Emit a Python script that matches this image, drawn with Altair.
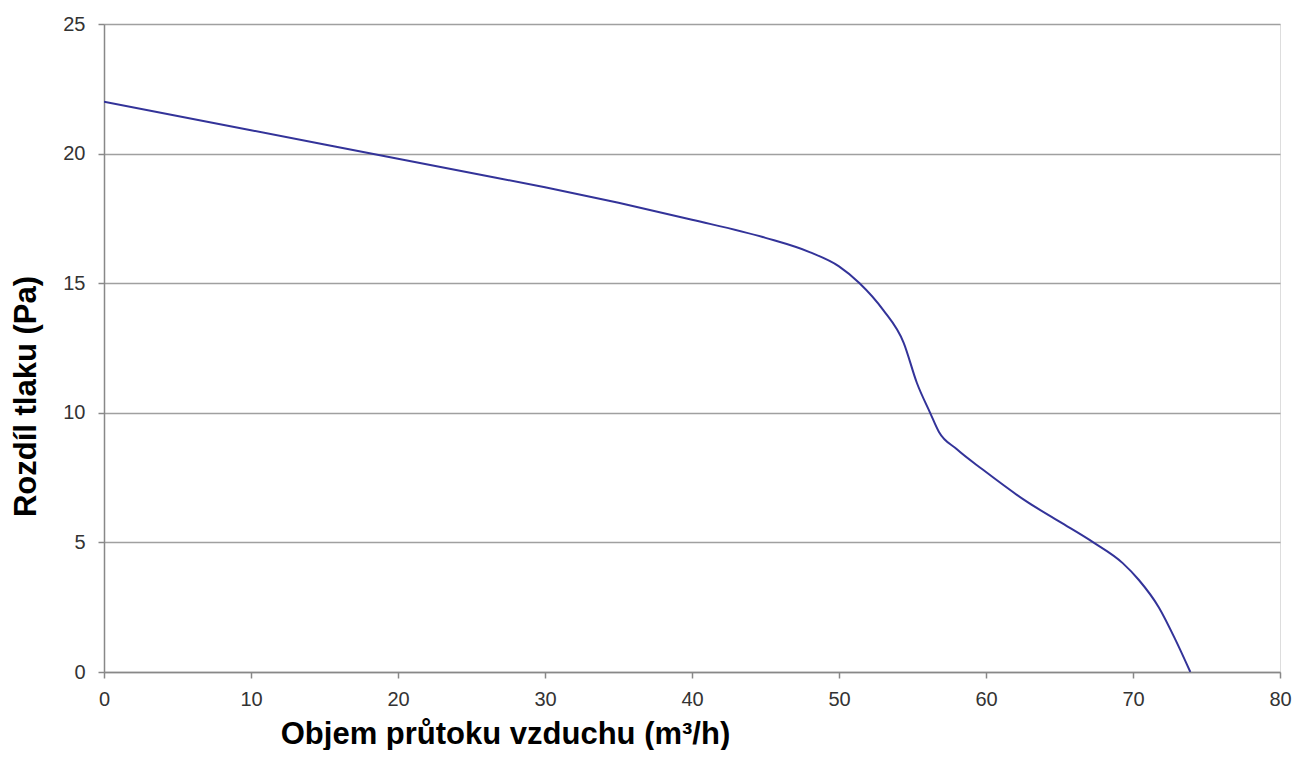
import altair as alt
import pandas as pd

flow = [0, 5, 10, 15, 20, 25, 30, 35, 40, 45, 48, 50, 51.4, 53, 54.4, 55.3, 56.2, 56.8, 58, 59.8, 62.7, 65, 67.3, 69.3, 70.4, 71.75, 72.9, 73.9]
pressure = [22.0, 21.45, 20.9, 20.35, 19.8, 19.25, 18.7, 18.1, 17.45, 16.75, 16.2, 15.65, 15.0, 13.97, 12.7, 11.15, 10.0, 9.26, 8.6, 7.8, 6.6, 5.8, 5.0, 4.2, 3.55, 2.5, 1.23, 0.0]

x_ticks = list(range(0, 81, 10))
y_ticks = list(range(0, 26, 5))

df = pd.DataFrame({"x": flow, "y": pressure})

FONT = "Liberation Sans"

chart = alt.Chart(df).mark_line(
    color="#333399", strokeWidth=2, interpolate="monotone", clip=True
).encode(
    x=alt.X("x:Q", scale=alt.Scale(domain=[0, 80], nice=False),
            axis=alt.Axis(title="Objem průtoku vzduchu (m³/h)", values=x_ticks,
                          grid=False, tickSize=6, labelPadding=11, labelFontSize=20,
                          labelFlush=False,
                          labelColor="#333333", labelFont=FONT,
                          domainColor="#888888", domainWidth=1.5, tickColor="#888888", tickWidth=1.5,
                          titleFont=FONT, titleFontSize=31, titleFontWeight="bold", titleColor="#000000",
                          titleX=401, titleY=71, titleAlign="center",
                          titleBaseline="alphabetic")),
    y=alt.Y("y:Q", scale=alt.Scale(domain=[0, 25], nice=False),
            axis=alt.Axis(title="Rozdíl tlaku (Pa)", values=y_ticks,
                          grid=True, gridColor="#a0a0a0", gridWidth=1.5,
                          tickSize=6, labelPadding=13, labelFontSize=20,
                          labelFlush=False,
                          labelColor="#333333", labelFont=FONT,
                          domainColor="#888888", domainWidth=1.5, tickColor="#888888", tickWidth=1.5,
                          titleFont=FONT, titleFontSize=31, titleFontWeight="bold", titleColor="#000000",
                          titleX=-69, titleY=372, titleAlign="center", titleBaseline="alphabetic",
                          titleAngle=270)),
).properties(
    width=1176, height=648,
    autosize=alt.AutoSizeParams(type="none"),
    padding={"left": 96, "top": 16, "right": 12, "bottom": 78},
).configure_view(
    stroke="#888888", strokeWidth=1.5
).configure(background="white")

chart.save("out.html", embed_options={"renderer": "svg", "actions": False})
